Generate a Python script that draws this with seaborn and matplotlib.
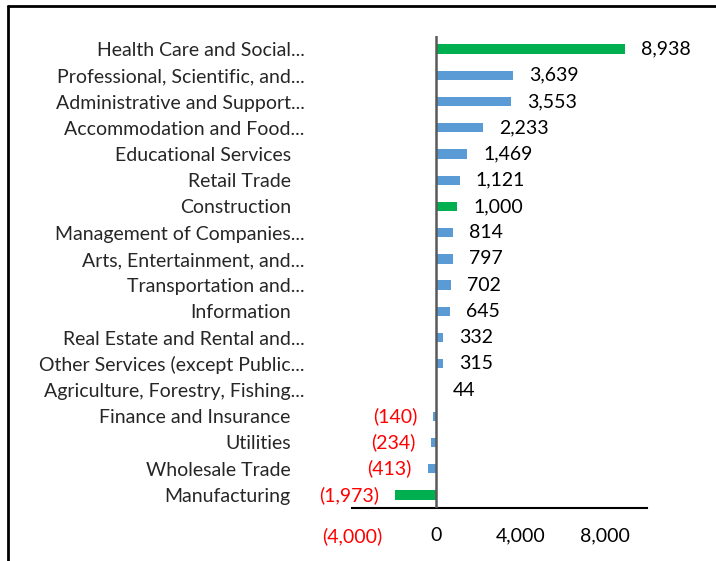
import matplotlib
matplotlib.use("Agg")
import matplotlib.pyplot as plt
import matplotlib.transforms as mtransforms
from matplotlib.lines import Line2D
import seaborn as sns
import pandas as pd

# Net job change by industry sector
industries = [
    "Health Care and Social...",
    "Professional, Scientific, and...",
    "Administrative and Support...",
    "Accommodation and Food...",
    "Educational Services",
    "Retail Trade",
    "Construction",
    "Management of Companies...",
    "Arts, Entertainment, and...",
    "Transportation and...",
    "Information",
    "Real Estate and Rental and...",
    "Other Services (except Public...",
    "Agriculture, Forestry, Fishing...",
    "Finance and Insurance",
    "Utilities",
    "Wholesale Trade",
    "Manufacturing",
]
job_change = [8938, 3639, 3553, 2233, 1469, 1121, 1000, 814, 797, 702,
              645, 332, 315, 44, -140, -234, -413, -1973]
highlighted = ["Health Care and Social...", "Construction", "Manufacturing"]
x_ticks = [-4000, 0, 4000, 8000]

BLUE = "#5B9BD5"
GREEN = "#00B050"
RED = "#FF0000"
FS = 14

sns.set_theme(style="white")
plt.rcParams["font.family"] = ["Lato", "DejaVu Sans"]
plt.rcParams["font.size"] = FS

df = pd.DataFrame({"industry": industries, "change": job_change})
palette = {name: (GREEN if name in highlighted else BLUE) for name in industries}

fig = plt.figure(figsize=(7.16, 5.61), dpi=100)
ax = fig.add_axes([352 / 716, 1 - 508 / 561, 295 / 716, 472 / 561])

sns.barplot(data=df, y="industry", x="change", hue="industry", palette=palette,
            orient="h", width=0.36, legend=False, dodge=False, ax=ax,
            saturation=1, linewidth=0)

ax.set_xlim(-4000, 10000)
ax.set_ylim(len(industries) - 0.5, -0.5)
ax.set_xlabel("")
ax.set_ylabel("")


def fmt_num(v):
    v = int(round(v))
    return f"({abs(v):,})" if v < 0 else f"{v:,}"


# value labels at bar ends
for cont in ax.containers:
    texts = ax.bar_label(cont, fmt=fmt_num, padding=11.5, fontsize=FS)
    for t, v in zip(texts, cont.datavalues):
        t.set_color(RED if v < 0 else "black")

# x ticks
ax.set_xticks(x_ticks, [fmt_num(v) for v in x_ticks])
for lbl, v in zip(ax.get_xticklabels(), x_ticks):
    lbl.set_color(RED if v < 0 else "black")
ax.tick_params(axis="x", length=0, pad=14, labelsize=FS)

# y tick labels
ax.set_yticks(range(len(industries)), industries)
ax.tick_params(axis="y", length=0, pad=34, labelsize=FS)
shift = mtransforms.ScaledTranslation(-0.14, 0, fig.dpi_scale_trans)
for lbl in ax.get_yticklabels():
    if not lbl.get_text().endswith("..."):
        lbl.set_transform(lbl.get_transform() + shift)

# axes lines
for side in ["top", "right", "left"]:
    ax.spines[side].set_visible(False)
ax.spines["bottom"].set_color("black")
ax.spines["bottom"].set_linewidth(1.5)
ax.axvline(0, color="#595959", lw=1.8, zorder=3)

# chart frame
fig.add_artist(Line2D([8 / 716, 1.0], [1 - 5.5 / 561, 1 - 5.5 / 561],
                      transform=fig.transFigure, color="black", lw=2))
fig.add_artist(Line2D([8 / 716, 8 / 716], [0.0, 1 - 5.5 / 561],
                      transform=fig.transFigure, color="black", lw=2))

fig.savefig("out.png", dpi=100)
